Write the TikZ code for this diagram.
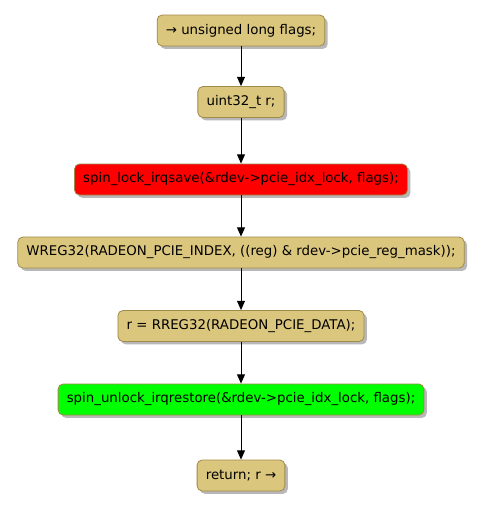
\documentclass[tikz,border=0pt]{standalone}
\usepackage{fontspec}
\setmainfont{DejaVu Sans}
\usetikzlibrary{positioning,arrows.meta,shadows}
\definecolor{acttan}{HTML}{DBC67E}
\definecolor{actborder}{HTML}{A08A4A}
\definecolor{actred}{HTML}{FF0000}
\definecolor{actgreen}{HTML}{00FF00}

\tikzset{
  act/.style={draw=actborder, fill=acttan, rounded corners=3.75pt, line width=0.6pt,
    minimum height=23.25pt, inner xsep=6.5pt, font=\fontsize{10}{12}\selectfont,
    drop shadow={shadow xshift=2.2pt, shadow yshift=-2.2pt, fill=gray!70, opacity=0.8}},
  flow/.style={-{Triangle[length=7pt,width=6pt]}, line width=0.75pt}
}

\begin{document}
\begin{tikzpicture}[x=0.75pt,y=-0.75pt]
    \useasboundingbox (0,0) rectangle (486,507);
    % one box per statement, top to bottom
    \node[act] (flags) at (241,30.5) {→ unsigned long flags;};
    \node[act] (decl) at (241,102) {uint32\_t r;};
    \node[act, fill=actred] (lock) at (241,179.5) {spin\_lock\_irqsave(\&rdev->pcie\_idx\_lock, flags);};
    \node[act] (wreg) at (241,252.5) {WREG32(RADEON\_PCIE\_INDEX, ((reg) \& rdev->pcie\_reg\_mask));};
    \node[act] (rreg) at (241,326) {r = RREG32(RADEON\_PCIE\_DATA);};
    \node[act, fill=actgreen] (unlock) at (241,399.5) {spin\_unlock\_irqrestore(\&rdev->pcie\_idx\_lock, flags);};
    \node[act] (ret) at (241,475.5) {return; r →};
    \foreach \a/\b in {flags/decl, decl/lock, lock/wreg, wreg/rreg, rreg/unlock, unlock/ret}
      \draw[flow] (\a) -- (\b);
  \end{tikzpicture}
\end{document}
